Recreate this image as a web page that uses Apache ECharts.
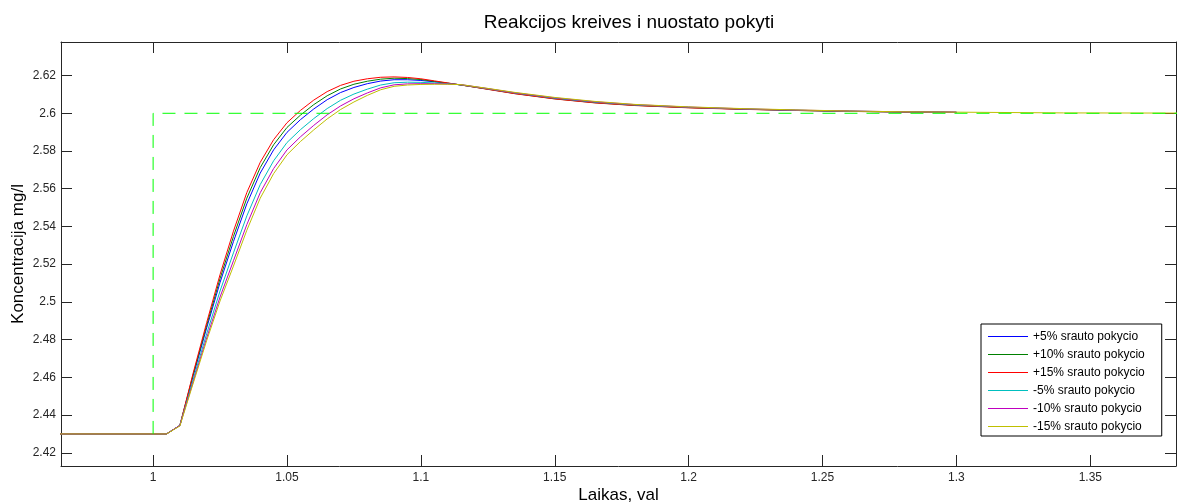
<!DOCTYPE html>
<html>
<head>
<meta charset="utf-8">
<script src="https://cdn.jsdelivr.net/npm/echarts@6/dist/echarts.min.js"></script>
<style>
  html, body { margin: 0; padding: 0; background: #fff; }
  #chart { width: 1178px; height: 502px; }
</style>
</head>
<body>
<div id="chart"></div>
<script>
// time grid, val
const time = [0.96, 1.0, 1.005, 1.01, 1.015, 1.02, 1.025, 1.03, 1.035, 1.04, 1.045, 1.05, 1.055, 1.06, 1.065,
  1.07, 1.075, 1.08, 1.085, 1.09, 1.095, 1.1, 1.105, 1.11, 1.115, 1.125, 1.135, 1.15, 1.165, 1.18,
  1.2, 1.22, 1.24, 1.26, 1.28, 1.3, 1.34, 1.39];

const plus5 = [2.43, 2.43, 2.43, 2.4345, 2.4609, 2.4862, 2.5103, 2.532, 2.552, 2.5683, 2.5806, 2.5899, 2.5966, 2.6023, 2.6072,
  2.611, 2.6137, 2.6157, 2.6171, 2.6178, 2.6178, 2.6174, 2.6167, 2.6159, 2.615, 2.6129, 2.6107, 2.6079, 2.6058, 2.6043,
  2.6031, 2.6022, 2.6016, 2.6011, 2.6007, 2.6005, null, null];
const plus10 = [2.43, 2.43, 2.43, 2.4345, 2.4617, 2.4876, 2.5124, 2.5347, 2.555, 2.5712, 2.5833, 2.5925, 2.599, 2.6046, 2.6093,
  2.6129, 2.6154, 2.617, 2.6181, 2.6186, 2.6184, 2.6179, 2.6169, 2.616, 2.615, 2.6128, 2.6105, 2.6077, 2.6056, 2.6042,
  2.603, 2.6022, 2.6015, 2.601, 2.6007, 2.6005, null, null];
const plus15 = [2.43, 2.43, 2.43, 2.4345, 2.4625, 2.489, 2.5145, 2.5375, 2.558, 2.574, 2.586, 2.595, 2.6015, 2.607, 2.6115,
  2.6148, 2.617, 2.6183, 2.6191, 2.6193, 2.619, 2.6183, 2.6172, 2.6161, 2.615, 2.6127, 2.6104, 2.6076, 2.6055, 2.6041,
  2.6029, 2.6021, 2.6015, 2.601, 2.6007, 2.6005, null, null];
const minus5 = [2.43, 2.43, 2.43, 2.4345, 2.4591, 2.4831, 2.5058, 2.526, 2.5456, 2.5622, 2.5748, 2.5845, 2.5913, 2.5972, 2.6025,
  2.6069, 2.6102, 2.6128, 2.615, 2.6162, 2.6165, 2.6164, 2.6161, 2.6157, 2.6151, 2.613, 2.6108, 2.608, 2.6059, 2.6044,
  2.6032, 2.6023, 2.6016, 2.6011, 2.6008, 2.6005, null, null];
const minus10 = [2.43, 2.43, 2.43, 2.4345, 2.4578, 2.4809, 2.5026, 2.5218, 2.541, 2.5579, 2.5707, 2.5806, 2.5875, 2.5936, 2.5992,
  2.6039, 2.6077, 2.6108, 2.6135, 2.6151, 2.6156, 2.6157, 2.6157, 2.6155, 2.6152, 2.6131, 2.6109, 2.6082, 2.6061, 2.6046,
  2.6033, 2.6024, 2.6017, 2.6012, 2.6008, 2.6006, null, null];
const minus15 = [2.43, 2.43, 2.43, 2.4342, 2.457, 2.4795, 2.5005, 2.519, 2.538, 2.555, 2.568, 2.578, 2.585, 2.5912, 2.597,
  2.602, 2.606, 2.6095, 2.6125, 2.6143, 2.615, 2.6153, 2.6154, 2.6154, 2.6152, 2.6132, 2.6111, 2.6084, 2.6063, 2.6047,
  2.6034, 2.6025, 2.6018, 2.6012, 2.6008, 2.6006, 2.6002, 2.6001];

// nuostatas (setpoint)
const spTime = [1.0, 1.0, 1.39];
const spValue = [2.43, 2.6, 2.6];

const seriesNames = ["+5% srauto pokycio", "+10% srauto pokycio", "+15% srauto pokycio",
  "-5% srauto pokycio", "-10% srauto pokycio", "-15% srauto pokycio"];
const seriesValues = [plus5, plus10, plus15, minus5, minus10, minus15];
const colors = ["#0000ff", "#008000", "#ff0000", "#00bfbf", "#bf00bf", "#bfbf00"];

const xTicks = [1, 1.05, 1.1, 1.15, 1.2, 1.25, 1.3, 1.35];
const yTicks = [2.42, 2.44, 2.46, 2.48, 2.5, 2.52, 2.54, 2.56, 2.58, 2.6, 2.62];

const font = '"Liberation Sans", Arial, sans-serif';
const axisColor = "#262626";
const xMin = 0.9656, xMax = 1.382;
const yMin = 2.413, yMax = 2.6378;

const chart = echarts.init(document.getElementById("chart"));

const baseX = {
  type: "value",
  min: xMin,
  max: xMax,
  axisLine: { show: true, onZero: false, lineStyle: { color: axisColor, width: 1 } },
  axisTick: { show: true, inside: true, length: 11, customValues: xTicks, lineStyle: { color: axisColor } },
  splitLine: { show: false },
};
const baseY = {
  type: "value",
  min: yMin,
  max: yMax,
  axisLine: { show: true, onZero: false, lineStyle: { color: axisColor, width: 1 } },
  axisTick: { show: true, inside: true, length: 11, customValues: yTicks, lineStyle: { color: axisColor } },
  splitLine: { show: false },
};

const series = seriesValues.map((vals, i) => ({
  name: seriesNames[i],
  type: "line",
  data: time.map((t, k) => [t, vals[k]]),
  symbol: "none",
  connectNulls: false,
  lineStyle: { width: 1, color: colors[i] },
  itemStyle: { color: colors[i] },
}));

series.push({
  name: "nuostatas",
  type: "line",
  data: spTime.map((t, k) => [t, spValue[k]]),
  symbol: "none",
  lineStyle: { width: 1, color: "#00ff00", type: [13, 9] },
  itemStyle: { color: "#00ff00" },
});

chart.setOption({
  animation: false,
  title: {
    text: "Reakcijos kreives i nuostato pokyti",
    left: 624,
    top: 8,
    textAlign: "center",
    textStyle: { fontFamily: font, fontSize: 19, fontWeight: "normal", color: "#000" },
  },
  legend: {
    data: seriesNames,
    orient: "vertical",
    left: 981,
    top: 324,
    padding: [5.5, 17, 2.5, 7],
    icon: "rect",
    itemWidth: 40,
    itemHeight: 1,
    itemGap: 4,
    backgroundColor: "#fff",
    borderColor: "#000",
    borderWidth: 1,
    borderRadius: 0,
    textStyle: { fontFamily: font, fontSize: 12, color: "#000", lineHeight: 14 },
  },
  grid: { left: 61, right: 2, top: 42, bottom: 36, outerBoundsMode: "none", containLabel: false },
  xAxis: [
    {
      ...baseX,
      position: "bottom",
      name: "Laikas, val",
      nameLocation: "middle",
      nameGap: 21,
      nameMoveOverlap: false,
      nameTextStyle: { fontFamily: font, fontSize: 17, color: "#000" },
      axisLabel: { show: true, customValues: xTicks, margin: 6, fontFamily: font, fontSize: 12, color: axisColor },
    },
    { ...baseX, position: "top", axisLabel: { show: false } },
  ],
  yAxis: [
    {
      ...baseY,
      position: "left",
      name: "Koncentracija mg/l",
      nameLocation: "middle",
      nameGap: 34,
      nameMoveOverlap: false,
      nameTextStyle: { fontFamily: font, fontSize: 17, color: "#000" },
      axisLabel: { show: true, customValues: yTicks, margin: 5, fontFamily: font, fontSize: 12, color: axisColor },
    },
    { ...baseY, position: "right", axisLabel: { show: false } },
  ],
  series: series,
});
</script>
</body>
</html>
